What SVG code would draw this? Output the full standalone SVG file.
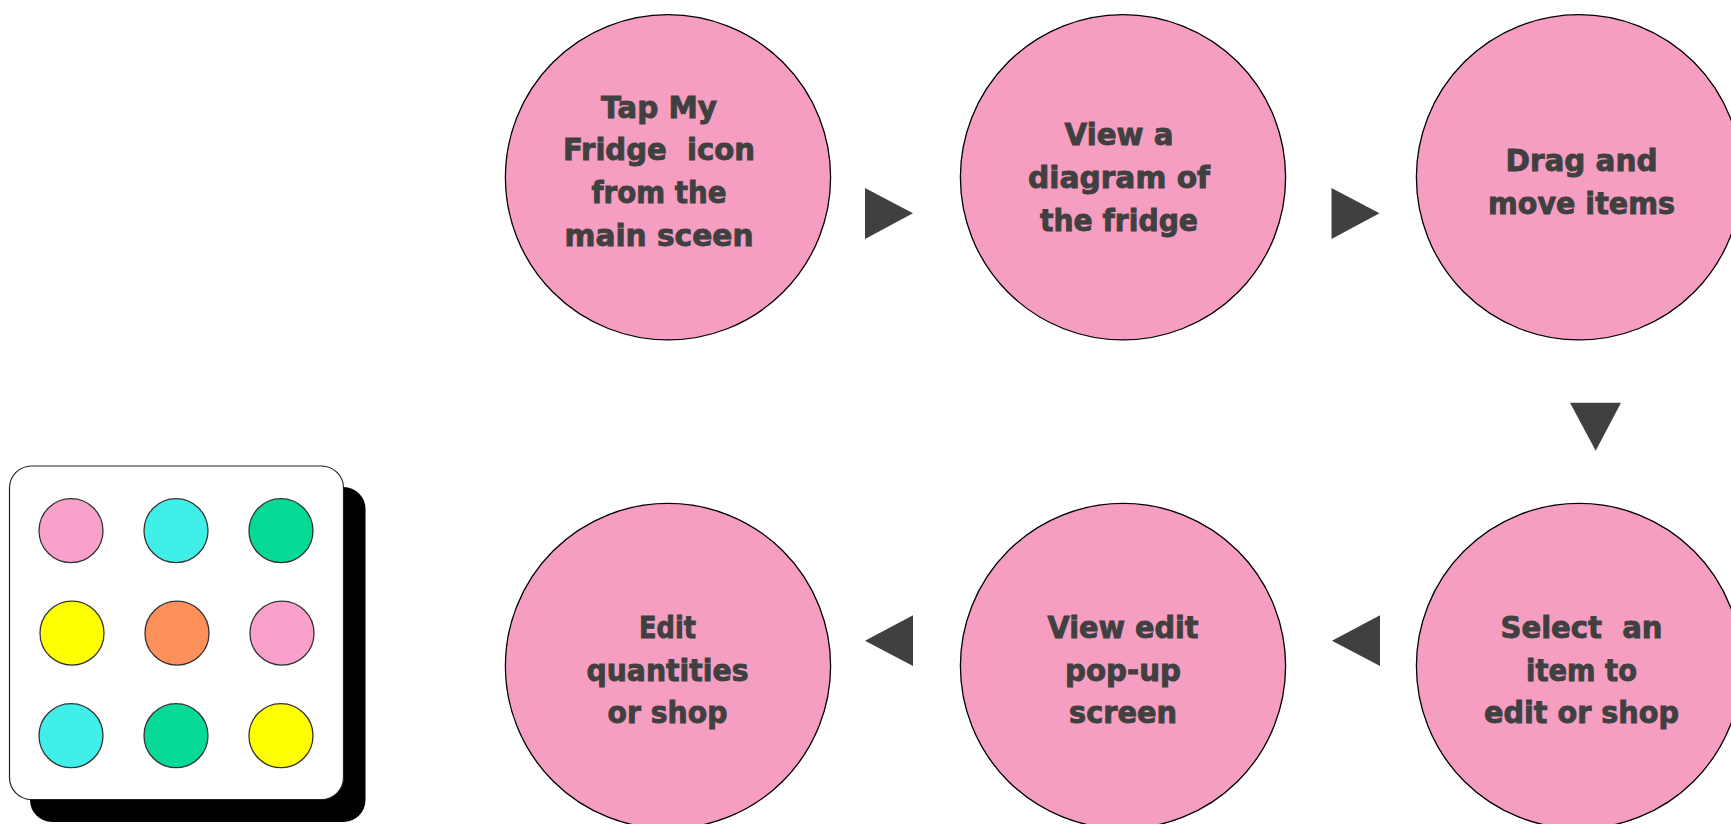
<svg xmlns="http://www.w3.org/2000/svg" width="1731" height="824" viewBox="0 0 1731 824">
<style>
.step{fill:#f59ec2;stroke:#000;stroke-width:1.3}
.dot{stroke:#333;stroke-width:1.3}
.lbl{font-family:"DejaVu Sans","Liberation Sans",sans-serif;font-weight:700;font-size:30px;fill:#404040;stroke:#404040;stroke-width:0.9;text-anchor:middle;white-space:pre}
.arrow{fill:#404040}
.pink{fill:#f9a0cb}.cyan{fill:#41efe9}.green{fill:#07da97}.yellow{fill:#ffff00}.orange{fill:#fe905a}
</style>
<rect width="1731" height="824" fill="#fff"/>
<g id="panel">
<rect x="30" y="487" width="335.500" height="335" rx="22" fill="#000"/>
<rect x="9.500" y="466" width="334" height="333.500" rx="22" fill="#fff" stroke="#222" stroke-width="1.200"/>
<circle class="dot pink" cx="71" cy="530.700" r="32"/>
<circle class="dot cyan" cx="176" cy="530.700" r="32"/>
<circle class="dot green" cx="281" cy="530.700" r="32"/>
<circle class="dot yellow" cx="72" cy="633.200" r="32"/>
<circle class="dot orange" cx="177" cy="633.200" r="32"/>
<circle class="dot pink" cx="282" cy="633.200" r="32"/>
<circle class="dot cyan" cx="71" cy="735.700" r="32"/>
<circle class="dot green" cx="176" cy="735.700" r="32"/>
<circle class="dot yellow" cx="281" cy="735.700" r="32"/>
</g>
<g id="node1"><circle class="step" cx="668" cy="177.300" r="162.600"/>
<text class="lbl" x="659" y="117.500" textLength="116" lengthAdjust="spacingAndGlyphs">Tap My</text>
<text class="lbl" x="659" y="160" textLength="192" lengthAdjust="spacingAndGlyphs">Fridge  icon</text>
<text class="lbl" x="659" y="202.500" textLength="135" lengthAdjust="spacingAndGlyphs">from the</text>
<text class="lbl" x="659" y="245.500" textLength="189" lengthAdjust="spacingAndGlyphs">main sceen</text></g>
<g id="node2"><circle class="step" cx="1123" cy="177.300" r="162.600"/>
<text class="lbl" x="1119" y="145" textLength="109" lengthAdjust="spacingAndGlyphs">View a</text>
<text class="lbl" x="1119" y="187.500" textLength="182" lengthAdjust="spacingAndGlyphs">diagram of</text>
<text class="lbl" x="1119" y="230.500" textLength="158" lengthAdjust="spacingAndGlyphs">the fridge</text></g>
<g id="node3"><circle class="step" cx="1579" cy="177.300" r="162.600"/>
<text class="lbl" x="1581.500" y="170.500" textLength="152" lengthAdjust="spacingAndGlyphs">Drag and</text>
<text class="lbl" x="1581.500" y="213.500" textLength="187" lengthAdjust="spacingAndGlyphs">move items</text></g>
<g id="node4"><circle class="step" cx="1579" cy="666" r="162.600"/>
<text class="lbl" x="1581.500" y="638" textLength="162" lengthAdjust="spacingAndGlyphs">Select  an</text>
<text class="lbl" x="1581.500" y="680.500" textLength="111" lengthAdjust="spacingAndGlyphs">item to</text>
<text class="lbl" x="1581.500" y="723" textLength="195" lengthAdjust="spacingAndGlyphs">edit or shop</text></g>
<g id="node5"><circle class="step" cx="1123" cy="666" r="162.600"/>
<text class="lbl" x="1123" y="638" textLength="151" lengthAdjust="spacingAndGlyphs">View edit</text>
<text class="lbl" x="1123" y="680.500" textLength="116" lengthAdjust="spacingAndGlyphs">pop-up</text>
<text class="lbl" x="1123" y="722.500" textLength="108" lengthAdjust="spacingAndGlyphs">screen</text></g>
<g id="node6"><circle class="step" cx="668" cy="666" r="162.600"/>
<text class="lbl" x="667.500" y="638" textLength="57" lengthAdjust="spacingAndGlyphs">Edit</text>
<text class="lbl" x="667.500" y="680.500" textLength="162" lengthAdjust="spacingAndGlyphs">quantities</text>
<text class="lbl" x="667.500" y="722.500" textLength="120" lengthAdjust="spacingAndGlyphs">or shop</text></g>
<g id="connectors">
<polygon class="arrow" points="865,188 913,213.300 865,239"/>
<polygon class="arrow" points="1331.500,188 1379.500,213.300 1331.500,239"/>
<polygon class="arrow" points="1570,402.700 1621,402.700 1595.700,450.700"/>
<polygon class="arrow" points="1380,615.300 1332,640.700 1380,666"/>
<polygon class="arrow" points="913,615.300 865,640.700 913,666"/>
</g>
</svg>
